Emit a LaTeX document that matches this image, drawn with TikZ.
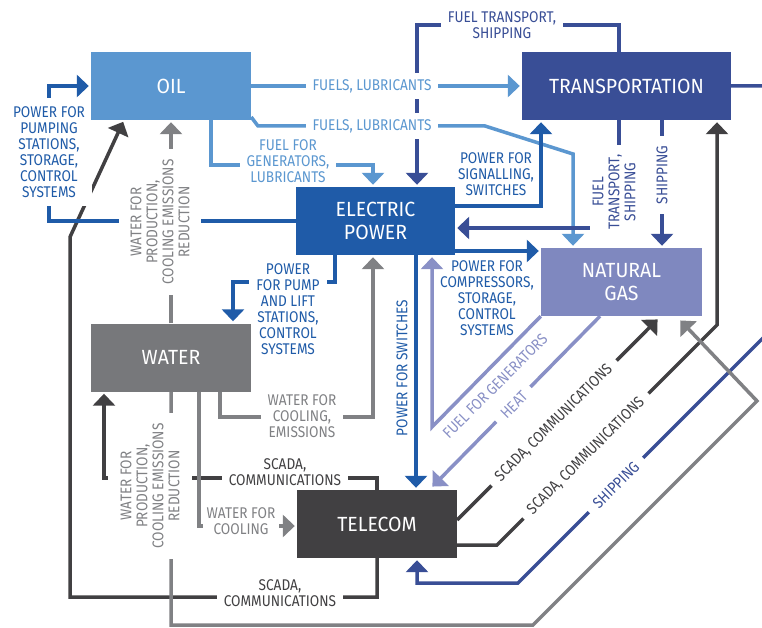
\documentclass[tikz,border=0pt]{standalone}
\usepackage{fontspec}
\setmainfont{Fira Sans}[FakeStretch=0.88]
\newfontfamily\boxfamily{Fira Sans}[FakeStretch=0.95]
\usetikzlibrary{arrows.meta}

\definecolor{oilc}{HTML}{5B97D0}
\definecolor{elecc}{HTML}{1F5BA8}
\definecolor{transc}{HTML}{394E96}
\definecolor{gasc}{HTML}{7F88BF}
\definecolor{gasline}{HTML}{8990C6}
\definecolor{waterc}{HTML}{77787B}
\definecolor{grayline}{HTML}{808184}
\definecolor{telc}{HTML}{414042}

\pgfdeclarelayer{background}
\pgfdeclarelayer{lines}
\pgfdeclarelayer{labels}
\pgfsetlayers{background,lines,labels,main}

\begin{document}
\begin{tikzpicture}[x=1pt,y=-1pt,
  box/.style={rectangle, minimum width=160pt, minimum height=68pt, inner sep=0pt,
    text=white, align=center, font=\boxfamily\fontsize{20.5}{23}\selectfont},
  conn/.style={line width=3.5pt, -{Triangle[length=12pt,width=22pt]}, shorten >=2pt},
  lab/.style={font=\fontsize{15.5}{16}\selectfont, align=center, inner sep=0pt},
  cut/.style={fill=white, inner xsep=7pt, inner ysep=6pt},
  rcut/.style={fill=white, inner xsep=10pt, inner ysep=11pt},
  dcut/.style={fill=white, inner xsep=9pt, inner ysep=3pt}
]
\useasboundingbox (0,0) rectangle (762,628);
\clip (0,0) rectangle (762,628);

% sectors
\node[box, fill=oilc] (oil) at (171,86) {OIL};
\node[box, fill=transc, minimum width=209pt] (trans) at (626.5,86) {TRANSPORTATION};
\node[box, fill=elecc, minimum width=159pt] (elec) at (375.5,221) {ELECTRIC\\POWER};
\node[box, fill=gasc, minimum width=161pt] (gas) at (621.5,282) {NATURAL\\GAS};
\node[box, fill=waterc] (water) at (171,357.5) {WATER};
\node[box, fill=telc] (tel) at (377,524) {TELECOM};

\begin{pgfonlayer}{background}
  \fill[white] (0,0) rectangle (762,628);
\end{pgfonlayer}

\begin{pgfonlayer}{lines}
  % oil supplies
  \draw[conn, oilc] (oil.east) -- (trans.west);
  \draw[conn, oilc] (oil.east |- 0,117) -- (258,126) -- (485,126) -- (573,154) -- (gas.north -| 573,0);
  \draw[conn, oilc] (oil.south -| 211,0) -- (211,165) -- (373,165) -- (elec.north -| 373,0);
  % transportation services
  \draw[conn, transc] (trans.north -| 619,0) -- (619,25) -- (417,25) -- (elec.north -| 417,0);
  \draw[conn, transc] (trans.south -| 619,0) -- (619,228) -- (elec.east |- 0,228);
  \draw[conn, transc] (trans.south -| 662,0) -- (gas.north -| 662,0);
  \draw[conn, transc] (trans.east) -- (810,86) -- (810,291) -- (518,583) -- (417,583) -- (tel.south -| 417,0);
  % telecom links
  \draw[conn, telc] (tel.south) -- (377,597) -- (70,597) -- (70,237) -- (124,120);
  \draw[conn, telc] (tel.north) -- (377,478) -- (104,478) -- (water.south -| 104,0);
  \draw[conn, telc] (tel.east |- 0,520) -- (659,318);
  \draw[conn, telc] (tel.east |- 0,545) -- (497,545) -- (717,325) -- (trans.south -| 717,0);
  % water supplies
  \draw[conn, grayline] (water.north) -- (oil.south);
  \draw[conn, grayline] (water.south) -- (171,625) -- (533,625) -- (757,401) -- (679,319);
  \draw[conn, grayline] (water.south -| 199,0) -- (199,526) -- (tel.west |- 0,526);
  \draw[conn, grayline] (water.south -| 220,0) -- (220,417) -- (373,417) -- (elec.south -| 373,0);
  % electric power
  \draw[conn, elecc] (elec.west) -- (49,221) -- (49,86) -- (oil.west);
  \draw[conn, elecc] (elec.south -| 335,0) -- (335,282) -- (233,282) -- (water.north -| 233,0);
  \draw[conn, elecc] (elec.south -| 416,0) -- (tel.north -| 416,0);
  \draw[conn, elecc] (elec.east |- 0,251) -- (gas.west |- 0,251);
  \draw[conn, elecc] (elec.east |- 0,206) -- (541,206) -- (trans.south -| 541,0);
  % natural gas
  \draw[conn, gasline] (gas.south west) -- (432,427) -- (elec.south -| 432,0);
  \draw[conn, gasline] (gas.south -| 600,0) -- (431,488);
\end{pgfonlayer}

\begin{pgfonlayer}{labels}
  \node[lab, cut, inner ysep=8pt, text=elecc] (lpump) at (49,152) {POWER FOR\\PUMPING\\STATIONS,\\STORAGE,\\CONTROL\\SYSTEMS};
  \node[lab, cut, text=oilc] (lfuel1) at (372,86) {FUELS, LUBRICANTS};
  \node[lab, cut, text=oilc] (lfuel2) at (372,126) {FUELS, LUBRICANTS};
  \node[lab, cut, text=oilc] (lgen) at (288,161) {FUEL FOR\\GENERATORS,\\LUBRICANTS};
  \node[lab, rcut, rotate=90, text=grayline] (lwoil) at (160,222) {WATER FOR\\PRODUCTION,\\COOLING EMISSIONS\\REDUCTION};
  \node[lab, text=elecc] (lsig) at (496,174) {POWER FOR\\SIGNALLING,\\SWITCHES};
  \node[lab, cut, text=transc] (lft1) at (502,25) {FUEL TRANSPORT,\\SHIPPING};
  \node[lab, fill=white, inner xsep=10pt, inner ysep=3pt, rotate=90, text=transc] (lft2) at (614,192) {FUEL\\TRANSPORT,\\SHIPPING};
  \node[lab, fill=white, inner xsep=10pt, inner ysep=3pt, rotate=90, text=transc] (lship1) at (662,175) {SHIPPING};
  \node[lab, cut, text=elecc] (lpumpw) at (288,309) {POWER\\FOR PUMP\\AND LIFT\\STATIONS,\\CONTROL\\SYSTEMS};
  \node[lab, cut, text=grayline] (lcool) at (302,416) {WATER FOR\\COOLING,\\EMISSIONS};
  \node[lab, rotate=90, text=elecc] (lswitch) at (402,368) {POWER FOR SWITCHES};
  \node[lab, text=elecc] (lcomp) at (487,298) {POWER FOR\\COMPRESSORS,\\STORAGE,\\CONTROL\\SYSTEMS};
  \node[lab, rotate=45, text=gasline] (lfgen) at (495,386) {FUEL FOR GENERATORS};
  \node[lab, dcut, rotate=45, text=gasline] (lheat) at (514,405) {HEAT};
  \node[lab, dcut, rotate=45, text=telc] (lscgas) at (554,423) {SCADA, COMMUNICATIONS};
  \node[lab, dcut, rotate=45, text=telc] (lsctr) at (586,456) {SCADA, COMMUNICATIONS};
  \node[lab, dcut, rotate=45, text=transc] (lship2) at (616,485) {SHIPPING};
  \node[lab, cut, text=telc] (lscw) at (285,472) {SCADA,\\COMMUNICATIONS};
  \node[lab, rcut, inner ysep=12pt, rotate=90, text=grayline] (lwgas) at (150,486) {WATER FOR\\PRODUCTION,\\COOLING EMISSIONS\\REDUCTION};
  \node[lab, cut, inner xsep=4pt, text=grayline] (lwtel) at (241,521) {WATER FOR\\COOLING};
  \node[lab, cut, text=telc] (lscoil) at (280,593) {SCADA,\\COMMUNICATIONS};
\end{pgfonlayer}
\end{tikzpicture}
\end{document}
